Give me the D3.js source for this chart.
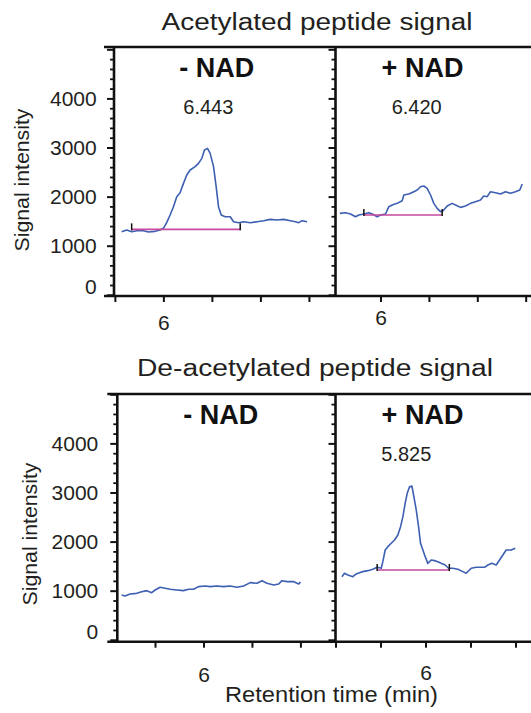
<!DOCTYPE html>
<html>
<head>
<meta charset="utf-8">
<script src="https://cdn.jsdelivr.net/npm/d3@7"></script>
<style>
  body { margin: 0; background: #fff; }
  svg { display: block; font-family: "Liberation Sans", Arial, sans-serif; }
</style>
</head>
<body>
<svg width="531" height="713"></svg>
<script>
'use strict';

// acetylated peptide, - NAD
var acMinusTime = [5.570, 5.622, 5.673, 5.725, 5.794, 5.845, 5.914, 5.966, 6.000, 6.034, 6.069, 6.104, 6.138, 6.172, 6.207, 6.241, 6.276, 6.327, 6.362, 6.396, 6.424, 6.455, 6.482, 6.517, 6.544, 6.568, 6.596, 6.637, 6.689, 6.723, 6.775, 6.827, 6.896, 6.965, 7.033, 7.102, 7.171, 7.240, 7.309, 7.361, 7.395, 7.429, 7.481];
var acMinusSignal = [1286, 1320, 1286, 1306, 1306, 1279, 1293, 1320, 1354, 1469, 1625, 1795, 1999, 2080, 2270, 2440, 2542, 2610, 2678, 2779, 2949, 2983, 2881, 2610, 2202, 1795, 1625, 1591, 1591, 1489, 1469, 1489, 1469, 1489, 1510, 1537, 1523, 1537, 1510, 1489, 1469, 1510, 1489];

// acetylated peptide, + NAD
var acPlusTime = [5.580, 5.638, 5.690, 5.742, 5.776, 5.828, 5.879, 5.914, 5.966, 6.000, 6.052, 6.086, 6.121, 6.172, 6.224, 6.241, 6.293, 6.344, 6.379, 6.413, 6.448, 6.482, 6.517, 6.551, 6.585, 6.620, 6.647, 6.689, 6.740, 6.775, 6.826, 6.878, 6.930, 6.981, 7.033, 7.067, 7.102, 7.136, 7.188, 7.240, 7.291, 7.343, 7.395, 7.439, 7.464];
var acPlusSignal = [1659, 1673, 1646, 1591, 1625, 1646, 1673, 1646, 1591, 1625, 1646, 1795, 1829, 1863, 1917, 2033, 2053, 2100, 2134, 2202, 2216, 2168, 2033, 1863, 1761, 1693, 1713, 1809, 1863, 1829, 1781, 1809, 1863, 1897, 1931, 2012, 1999, 2100, 2080, 2053, 2100, 2067, 2100, 2134, 2257];

// de-acetylated peptide, - NAD
var deMinusTime = [5.156, 5.190, 5.242, 5.311, 5.363, 5.414, 5.466, 5.501, 5.552, 5.604, 5.656, 5.725, 5.793, 5.845, 5.897, 5.949, 6.018, 6.069, 6.138, 6.207, 6.276, 6.345, 6.414, 6.483, 6.552, 6.604, 6.655, 6.724, 6.776, 6.810, 6.862, 6.931, 6.983, 7.000];
var deMinusSignal = [912, 892, 933, 946, 980, 1001, 960, 1014, 1069, 1048, 1028, 1014, 1001, 1028, 1028, 1082, 1096, 1082, 1096, 1082, 1096, 1069, 1096, 1164, 1150, 1204, 1150, 1116, 1136, 1204, 1184, 1184, 1136, 1177];

// de-acetylated peptide, + NAD
var dePlusTime = [5.071, 5.100, 5.137, 5.193, 5.230, 5.267, 5.304, 5.360, 5.415, 5.463, 5.508, 5.526, 5.552, 5.582, 5.619, 5.656, 5.693, 5.723, 5.749, 5.774, 5.797, 5.823, 5.849, 5.871, 5.897, 5.923, 5.945, 5.971, 5.997, 6.026, 6.063, 6.100, 6.137, 6.174, 6.219, 6.256, 6.304, 6.360, 6.415, 6.452, 6.508, 6.563, 6.656, 6.693, 6.737, 6.786, 6.823, 6.860, 6.897, 6.952, 6.997];
var dePlusSignal = [1286, 1354, 1320, 1286, 1340, 1367, 1388, 1408, 1435, 1476, 1456, 1591, 1829, 1897, 1965, 2033, 2134, 2304, 2508, 2779, 2983, 3119, 3132, 2915, 2644, 2304, 1965, 1829, 1693, 1557, 1625, 1612, 1591, 1557, 1523, 1456, 1456, 1435, 1388, 1354, 1456, 1476, 1476, 1523, 1557, 1523, 1625, 1727, 1829, 1829, 1863];

// integration baselines: [start time, end time, level]
var acMinusBase = [5.673, 6.792, 1333];
var acPlusBase = [5.828, 6.637, 1625];
var dePlusBase = [5.463, 6.265, 1422];

var peakLabels = ['6.443', '6.420', '', '5.825'];
var conditions = ['- NAD', '+ NAD', '- NAD', '+ NAD'];
var rowTitles = ['Acetylated peptide signal', 'De-acetylated peptide signal'];
var yMajorTicks = [0, 1000, 2000, 3000, 4000];
var xLabelTick = 6;

var svg = d3.select('svg');
var blue = '#3d5fb2';
var magenta = '#c64a9e';

// layout of the two rows and four panels
var rows = [
    { top: 47, bottom: 296, yDom: [-24, 5047], axisX: 114, labelRight: 96.7, ylab: 29, yc: 180, titleX: 317, titleY: 29.5, titleW: 311 },
    { top: 394, bottom: 641.7, yDom: [-39, 5006], axisX: 117.3, labelRight: 98.3, ylab: 37.3, yc: 534, titleX: 315, titleY: 376, titleW: 356 }
];
var panels = [
    { row: 0, x0: 114, x1: 335.5, tDom: [5.491, 7.774], time: acMinusTime, sig: acMinusSignal, base: acMinusBase, condX: 216.7, peakX: 208.3, pad: 13 },
    { row: 0, x0: 335.5, x1: 531.5, tDom: [5.535, 7.56], time: acPlusTime, sig: acPlusSignal, base: acPlusBase, condX: 422.5, peakX: 416.7, pad: 8 },
    { row: 1, x0: 117.3, x1: 335.5, tDom: [5.111, 7.362], time: deMinusTime, sig: deMinusSignal, base: null, condX: 220.8, peakX: 0, pad: 19 },
    { row: 1, x0: 335.5, x1: 531.5, tDom: [5.0, 7.178], time: dePlusTime, sig: dePlusSignal, base: dePlusBase, condX: 422.5, peakX: 406.3, pad: 17 }
];

rows.forEach(function (r, ri) {
    r.y = d3.scaleLinear().domain(r.yDom).range([r.bottom, r.top]);

    svg.append('text')
        .attr('x', r.titleX).attr('y', r.titleY)
        .attr('text-anchor', 'middle')
        .attr('font-size', 23)
        .attr('fill', '#231f20')
        .attr('textLength', r.titleW)
        .attr('lengthAdjust', 'spacingAndGlyphs')
        .text(rowTitles[ri]);

    svg.append('text')
        .attr('transform', 'translate(' + r.ylab + ',' + r.yc + ') rotate(-90)')
        .attr('text-anchor', 'middle')
        .attr('font-size', 21)
        .attr('fill', '#231f20')
        .attr('textLength', 143)
        .attr('lengthAdjust', 'spacingAndGlyphs')
        .text('Signal intensity');
});

panels.forEach(function (p, i) {
    var r = rows[p.row];
    var x = d3.scaleLinear().domain(p.tDom).range([p.x0, p.x1]);
    var y = r.y;
    var g = svg.append('g');

    var pts = p.time.map(function (t, k) { return [t, p.sig[k]]; });
    var line = d3.line()
        .x(function (d) { return x(d[0]); })
        .y(function (d) { return y(d[1]); });

    g.append('path')
        .datum(pts)
        .attr('d', line)
        .attr('fill', 'none')
        .attr('stroke', blue)
        .attr('stroke-width', 1.6)
        .attr('stroke-linejoin', 'round');

    if (p.base) {
        g.append('line')
            .attr('x1', x(p.base[0])).attr('x2', x(p.base[1]))
            .attr('y1', y(p.base[2])).attr('y2', y(p.base[2]))
            .attr('stroke', magenta).attr('stroke-width', 1.6);
        g.selectAll('.cut').data([p.base[0], p.base[1]]).enter().append('line')
            .attr('x1', function (d) { return x(d); }).attr('x2', function (d) { return x(d); })
            .attr('y1', y(p.base[2]) - 6).attr('y2', y(p.base[2]) + 1)
            .attr('stroke', '#111').attr('stroke-width', 1.5);
    }

    // x axis ticks every half minute
    var xt = d3.range(5, 8.01, 0.5).filter(function (t) { return t >= p.tDom[0] - 0.01 && t <= p.tDom[1]; });
    var xa = g.append('g')
        .attr('transform', 'translate(0,' + r.bottom + ')')
        .call(d3.axisBottom(x).tickValues(xt).tickSize(6).tickPadding(p.pad)
            .tickFormat(function (d) { return d === xLabelTick ? '6' : ''; }));
    xa.select('.domain').remove();
    xa.selectAll('line').attr('stroke', '#111').attr('stroke-width', 2);
    xa.selectAll('text').attr('font-size', 21).attr('fill', '#231f20').attr('font-family', null);

    // y axis: minor ticks every 200, major every 1000
    var minor = d3.range(0, 5001, 200).filter(function (v) { return v % 1000 !== 0 && v <= r.yDom[1]; });
    var ym = g.append('g')
        .attr('transform', 'translate(' + p.x0 + ',0)')
        .call(d3.axisLeft(y).tickValues(minor).tickSize(4).tickFormat(''));
    ym.select('.domain').remove();
    ym.selectAll('line').attr('stroke', '#111').attr('stroke-width', 1.8);

    var majors = d3.range(0, 5001, 1000).filter(function (v) { return v <= r.yDom[1]; });
    var left = (i % 2 === 0);
    var yM = g.append('g')
        .attr('transform', 'translate(' + p.x0 + ',0)')
        .call(d3.axisLeft(y).tickValues(majors).tickSize(7)
            .tickPadding(p.x0 - r.labelRight - 7)
            .tickFormat(function (d) { return left && yMajorTicks.indexOf(d) >= 0 ? String(d) : ''; }));
    yM.select('.domain').remove();
    yM.selectAll('line').attr('stroke', '#111').attr('stroke-width', 2);
    yM.selectAll('text').attr('font-size', 21).attr('fill', '#231f20').attr('font-family', null);
    yM.selectAll('.tick').filter(function (d) { return d === 0; }).select('text').attr('dy', '-0.06em');

    // vertical axis line
    g.append('line')
        .attr('x1', p.x0).attr('x2', p.x0)
        .attr('y1', r.top).attr('y2', r.bottom)
        .attr('stroke', '#111').attr('stroke-width', 2.6);

    // condition and peak labels
    g.append('text')
        .attr('x', p.condX).attr('y', r.top + 30)
        .attr('text-anchor', 'middle')
        .attr('font-size', 27).attr('font-weight', 'bold')
        .attr('fill', '#111')
        .text(conditions[i]);

    if (peakLabels[i]) {
        g.append('text')
            .attr('x', p.peakX).attr('y', r.top + 67)
            .attr('text-anchor', 'middle')
            .attr('font-size', 20)
            .attr('fill', '#231f20')
            .text(peakLabels[i]);
    }
});

// frame lines across each row
rows.forEach(function (r) {
    [r.top, r.bottom].forEach(function (yy) {
        svg.append('line')
            .attr('x1', r.axisX - 10).attr('x2', 531)
            .attr('y1', yy).attr('y2', yy)
            .attr('stroke', '#111').attr('stroke-width', 2.6);
    });
});

svg.append('text')
    .attr('x', 331.5).attr('y', 702)
    .attr('text-anchor', 'middle')
    .attr('font-size', 22)
    .attr('fill', '#231f20')
    .attr('textLength', 213)
    .attr('lengthAdjust', 'spacingAndGlyphs')
    .text('Retention time (min)');
</script>
</body>
</html>
